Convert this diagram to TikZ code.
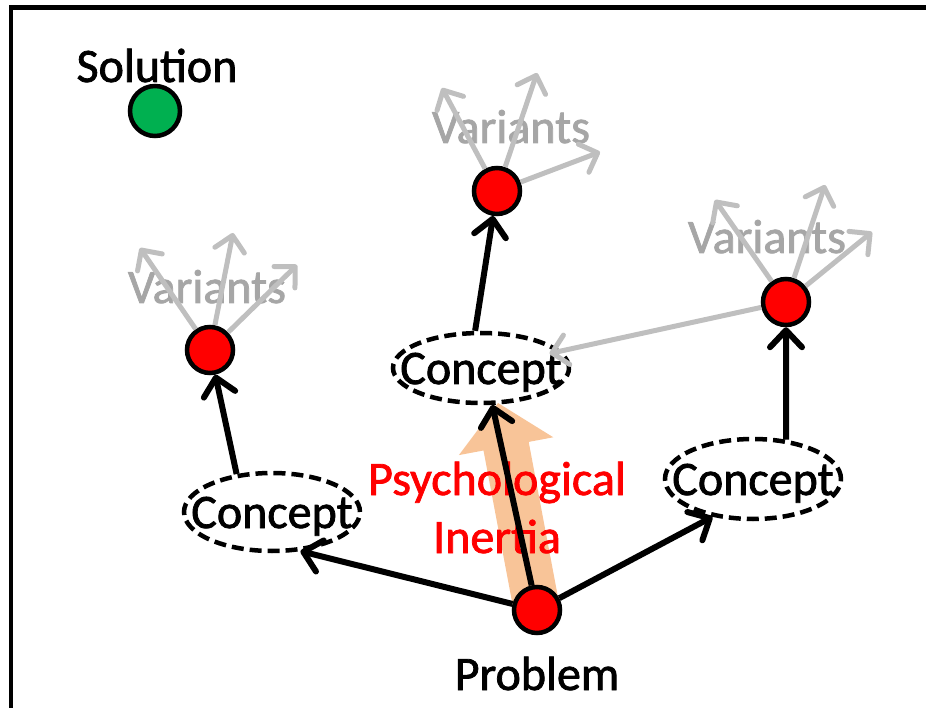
\documentclass[tikz,border=0pt]{standalone}
\usepackage{fontspec}
\setmainfont{Carlito}[FakeBold=1.6]
\usetikzlibrary{shapes.geometric,arrows.meta}
\definecolor{inertiac}{RGB}{248,196,152}
\definecolor{vargray}{RGB}{191,191,191}
\definecolor{vartext}{RGB}{166,166,166}
\definecolor{solgreen}{RGB}{0,176,80}
\begin{document}
\begin{tikzpicture}[x=1pt,y=-1pt,
  bigfont/.style={font=\fontsize{48}{58}\selectfont},
  redc/.style={circle, draw=black, line width=4.5pt, fill=red, minimum size=46pt, inner sep=0pt},
  concept/.style={ellipse, draw=black, line width=4.5pt, dash pattern=on 12pt off 6pt, minimum width=176pt, inner sep=0pt},
  ctext/.style={bigfont, text height=32pt, text depth=0pt, inner sep=0pt},
  lbl/.style={bigfont, anchor=base, inner sep=0pt},
  vartxt/.style={lbl, text=vartext},
  blkarrow/.style={draw=black, line width=6pt, -{Straight Barb[length=17pt,width=32pt,line cap=round,line join=round]}},
  grayarrow/.style={draw=vargray, line width=5pt, -{Straight Barb[length=15pt,width=30pt,line cap=round,line join=round]}}
]
\useasboundingbox (0,0) rectangle (926,708);
% frame (two filled bars, top bar running past the page edge)
\fill[black] (8.75,5.25) rectangle (1000,9.75);
\fill[black] (8.75,5.25) rectangle (13.25,720);

% psychological inertia arrow
\fill[inertiac] (514.4,614.3) -- (483.5,450.5) -- (458.9,455.1) -- (498,403) -- (553.3,437.3) -- (528.7,441.9) -- (559.6,605.7) -- cycle;
\node[lbl, text=red] (psy) at (497,495) {Psychological};
\node[lbl, text=red] (ine) at (497,553) {Inertia};

% labels
\node[lbl] (soltxt) at (157,82) {Solution};
\node[lbl] (probtxt) at (537,690) {Problem};
\node[vartxt] (varl) at (207,303) {Variants};
\node[vartxt] (varm) at (511,143) {Variants};
\node[vartxt] (varr) at (767,253) {Variants};

% concepts
\node[concept, minimum height=78pt] (cl) at (272,512) {};
\node[ctext] at (cl) {Concept};
\node[concept, minimum height=70pt] (cm) at (481,368) {};
\node[ctext] at (cm) {Concept};
\node[concept, minimum height=80pt] (cr) at (753,479) {};
\node[ctext] at (cr) {Concept};

% circles
\node[circle, draw=black, line width=4.5pt, fill=solgreen, minimum size=50pt, inner sep=0pt] (sol) at (155,111) {};
\node[redc] (rl) at (210,350) {};
\node[redc] (rm) at (497,191) {};
\node[redc] (rr) at (786,302) {};
\node[redc] (prob) at (537,610) {};

% variant tips
\coordinate (tl1) at (140,248);
\coordinate (tl2) at (233,233);
\coordinate (tl3) at (297,265);
\coordinate (tm1) at (442,88);
\coordinate (tm2) at (537,73);
\coordinate (tm3) at (600,152);
\coordinate (tr1) at (715,200);
\coordinate (tr2) at (825,185);
\coordinate (tr3) at (872,232);

\foreach \c/\t in {rl/tl1, rl/tl2, rl/tl3, rm/tm1, rm/tm2, rm/tm3, rr/tr1, rr/tr2, rr/tr3}
  \draw[grayarrow] (\c) -- (\t);
\draw[grayarrow, shorten >=-12pt] (rr) -- (cm.12);

% black arrows
\draw[blkarrow] (prob) -- (cl.-54);
\draw[blkarrow] (prob) -- (cr.-137);
\draw[blkarrow] (prob) -- (cm.-73);
\draw[blkarrow] (cl.133) -- (rl);
\draw[blkarrow] (cm.99) -- (rm);
\draw[blkarrow] (cr.50) -- (rr);
\end{tikzpicture}
\end{document}
